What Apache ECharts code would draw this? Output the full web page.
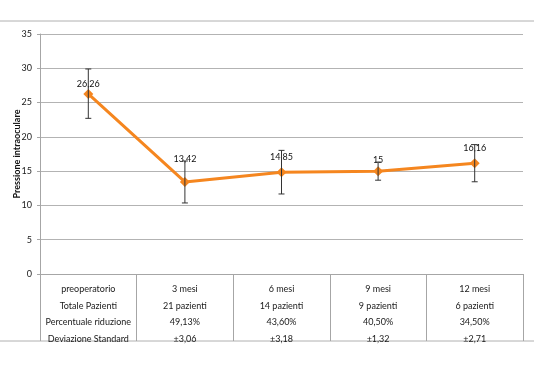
<!DOCTYPE html>
<html><head><meta charset="utf-8">
<script src="https://cdn.jsdelivr.net/npm/echarts@6/dist/echarts.min.js"></script>
<style>html,body{margin:0;padding:0;background:#fff}#c{width:534px;height:371px}</style>
</head><body><div id="c"></div>
<script>
var categories = ['preoperatorio', '3 mesi', '6 mesi', '9 mesi', '12 mesi'];
var pressure = [26.26, 13.42, 14.85, 15, 16.16];
var errLow = [22.7, 10.36, 11.67, 13.68, 13.45];
var errHigh = [29.9, 16.48, 18.03, 16.32, 18.87];
var rowPatients = ['Totale Pazienti', '21 pazienti', '14 pazienti', '9 pazienti', '6 pazienti'];
var rowReduction = ['Percentuale riduzione', '49,13%', '43,60%', '40,50%', '34,50%'];
var rowStdDev = ['Deviazione Standard', '±3,06', '±3,18', '±1,32', '±2,71'];
var yTicks = {min: 0, max: 35, interval: 5};

// styling: gap between each marker and its value label
var labelGap = [0, 13, 6, 2, 6];

var font = 'Lato';
var chart = echarts.init(document.getElementById('c'), null, {renderer: 'canvas'});
var errData = categories.map(function (c, i) { return [i, errLow[i], errHigh[i]]; });
var lineData = pressure.map(function (v, i) { return {value: v, label: {distance: labelGap[i]}}; });

chart.setOption({
  backgroundColor: '#fff',
  animation: false,
  grid: {left: 40, right: 11, top: 34, bottom: 97, containLabel: false, outerBoundsMode: 'none'},
  xAxis: {
    type: 'category',
    data: categories,
    boundaryGap: true,
    axisLine: {lineStyle: {color: '#a6a6a6', width: 1}},
    axisTick: {show: true, length: 67, lineStyle: {color: '#a6a6a6'}},
    axisLabel: {
      margin: 7,
      interval: 0,
      color: '#1a1a1a',
      fontFamily: font,
      fontSize: 9,
      lineHeight: 16.5,
      formatter: function (v, i) {
        return [v, rowPatients[i], rowReduction[i], rowStdDev[i]].join('\n');
      }
    }
  },
  yAxis: {
    type: 'value',
    min: yTicks.min, max: yTicks.max, interval: yTicks.interval,
    name: 'Pressione intraoculare',
    nameLocation: 'middle',
    nameGap: 18,
    nameMoveOverlap: false,
    nameTextStyle: {fontFamily: font, fontSize: 9, fontWeight: 'bold', color: '#111'},
    axisLine: {show: true, lineStyle: {color: '#a6a6a6'}},
    axisTick: {show: true, length: 3, lineStyle: {color: '#a6a6a6'}},
    axisLabel: {margin: 8, color: '#1a1a1a', fontFamily: font, fontSize: 9},
    splitLine: {lineStyle: {color: '#b3b3b3', width: 1}}
  },
  graphic: [
    {type: 'line', shape: {x1: 0, y1: 21, x2: 534, y2: 21}, style: {stroke: '#b0b0b0', lineWidth: 1}},
    {type: 'line', shape: {x1: 0, y1: 341, x2: 534, y2: 341}, style: {stroke: '#b0b0b0', lineWidth: 1}}
  ],
  series: [
    {
      type: 'custom',
      z: 3,
      data: errData,
      renderItem: function (params, api) {
        var x = api.value(0);
        var lo = api.coord([x, api.value(1)]);
        var hi = api.coord([x, api.value(2)]);
        var w = 3;
        var st = {stroke: '#333', lineWidth: 1};
        return {
          type: 'group',
          children: [
            {type: 'line', shape: {x1: hi[0], y1: hi[1], x2: lo[0], y2: lo[1]}, style: st},
            {type: 'line', shape: {x1: hi[0] - w, y1: hi[1], x2: hi[0] + w, y2: hi[1]}, style: st},
            {type: 'line', shape: {x1: lo[0] - w, y1: lo[1], x2: lo[0] + w, y2: lo[1]}, style: st}
          ]
        };
      }
    },
    {
      type: 'line',
      z: 2,
      data: lineData,
      symbol: 'diamond',
      symbolSize: 10,
      lineStyle: {color: '#f5861f', width: 3},
      itemStyle: {color: '#f5861f'},
      label: {
        show: true,
        position: 'top',
        color: '#111',
        fontFamily: font,
        fontSize: 9,
        formatter: function (p) { return String(p.value).replace('.', ','); }
      }
    }
  ]
});
</script></body></html>
